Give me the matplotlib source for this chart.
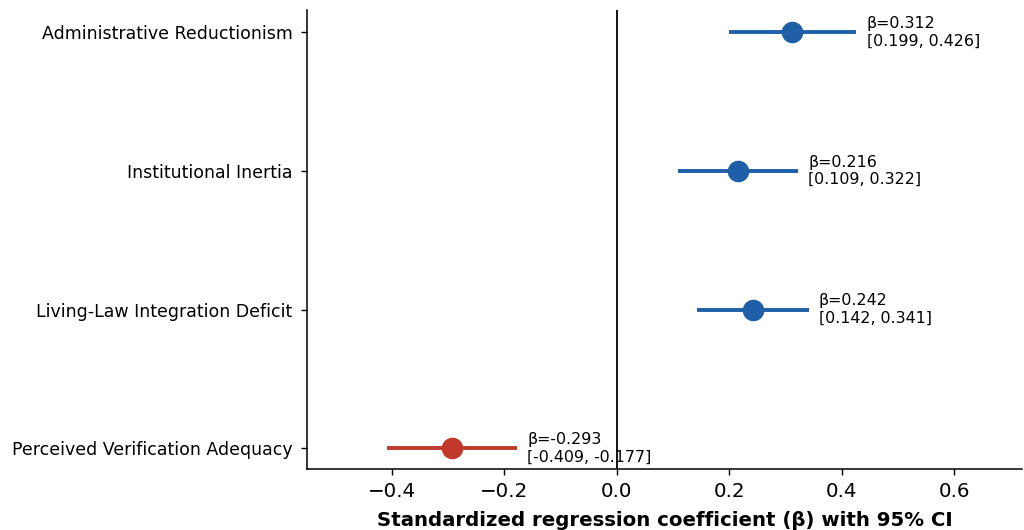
import matplotlib
matplotlib.use("Agg")
import matplotlib.pyplot as plt

categories = ["Administrative Reductionism", "Institutional Inertia",
              "Living-Law Integration Deficit", "Perceived Verification Adequacy"]
beta = [0.312, 0.216, 0.242, -0.293]
ci_low = [0.199, 0.109, 0.142, -0.409]
ci_high = [0.426, 0.322, 0.341, -0.177]
xticks = [-0.4, -0.2, 0.0, 0.2, 0.4, 0.6]

blue = "#1f5fa8"
red = "#c0392b"

fig = plt.figure(figsize=(10.24, 5.3), dpi=100)
ax = fig.add_axes([0.300, 0.115, 0.698, 0.866])

n = len(categories)
ys = list(range(n - 1, -1, -1))
for y, b, lo, hi in zip(ys, beta, ci_low, ci_high):
    c = blue if b > 0 else red
    ax.plot([lo, hi], [y, y], color=c, lw=2.8, solid_capstyle="butt", zorder=2)
    ax.plot(b, y, "o", color=c, ms=14.5, zorder=3)
    ax.text(hi + 0.018, y, f"β={b:.3f}\n[{lo:.3f}, {hi:.3f}]",
            va="center", ha="left", fontsize=11.4, linespacing=1.2)

ax.axvline(0, color="black", lw=1.3, zorder=1)
ax.set_yticks(ys)
ax.set_yticklabels(categories, fontsize=12.5)
ax.set_xticks(xticks)
ax.tick_params(axis="x", labelsize=14.3, pad=5)
ax.tick_params(axis="y", pad=6)
ax.tick_params(length=4.5, width=1.0)
ax.set_xlim(-0.55, 0.72)
ax.set_ylim(-0.15, 3.16)
ax.set_xlabel("Standardized regression coefficient (β) with 95% CI",
              fontsize=14.2, fontweight="bold", labelpad=7)
ax.spines["top"].set_visible(False)
ax.spines["right"].set_visible(False)
for s in ("left", "bottom"):
    ax.spines[s].set_linewidth(1.1)

fig.savefig("out.png", dpi=100)
